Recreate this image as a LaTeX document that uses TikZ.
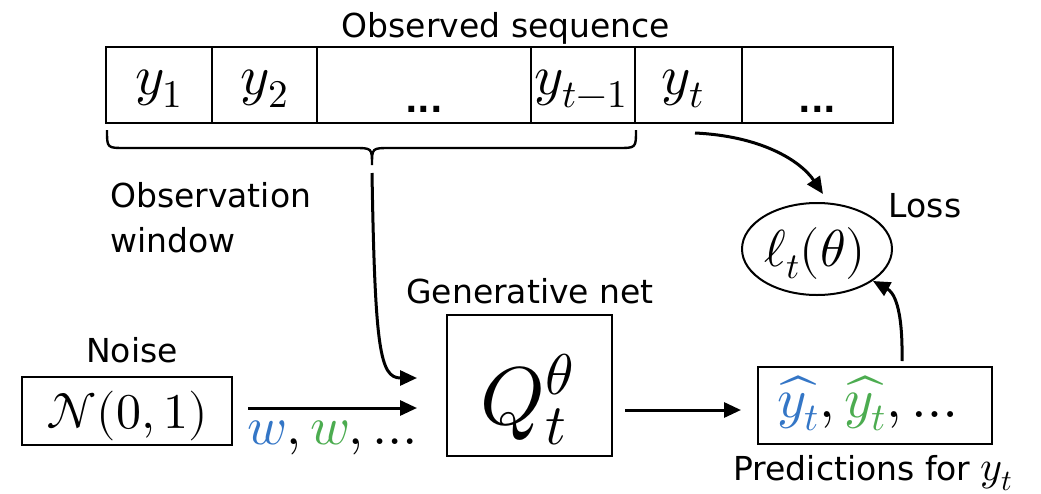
\documentclass[tikz,border=0pt]{standalone}
\usepackage{fontspec}
\usepackage{unicode-math}
\setmathfont{Latin Modern Math}
\setsansfont{DejaVu Sans}
\usetikzlibrary{arrows.meta,shapes.geometric}
\definecolor{wblue}{RGB}{52,118,198}
\definecolor{wgreen}{RGB}{76,172,80}
\tikzset{
  lbl/.style={font=\sffamily\fontsize{33}{40}\selectfont, inner sep=0pt},
  cell/.style={draw, line width=2pt, minimum height=76pt, inner sep=0pt},
  box/.style={draw, line width=2pt, inner sep=0pt},
  arr/.style={line width=3pt, -{Triangle[length=17pt,width=15pt]}},
  mth/.style={inner sep=0pt, font=\fontsize{56}{60}\selectfont},
  bigm/.style={inner sep=0pt, font=\fontsize{82}{90}\selectfont},
  midm/.style={inner sep=0pt, font=\fontsize{50}{56}\selectfont},
}
\begin{document}
\begin{tikzpicture}[x=1pt,y=-1pt]
\useasboundingbox (0,0) rectangle (1041,493);

% observed sequence
\node[lbl, anchor=base] (title) at (506,37) {Observed sequence};
\node[cell, minimum width=106pt] (c1) at (159,85) {};
\node[cell, minimum width=105pt] (c2) at (264.5,85) {};
\node[cell, minimum width=214pt] (c3) at (424,85) {};
\node[cell, minimum width=104pt] (c4) at (583,85) {};
\node[cell, minimum width=107pt] (c5) at (688.5,85) {};
\node[cell, minimum width=151pt] (c6) at (817.5,85) {};
\node[mth, anchor=base] (t1) at (159,94) {$y_1$};
\node[mth, anchor=base] (t2) at (264.5,94) {$y_2$};
\node[lbl, anchor=base] (t3) at (424,112) {\textbf{...}};
\node[mth, anchor=base] (t4) at (581,94) {$y_{t-1}$};
\node[mth, anchor=base] (t5) at (683,94) {$y_t$};
\node[lbl, anchor=base] (t6) at (817.5,112) {\textbf{...}};

% brace
\draw[line width=2.4pt] (107,130) .. controls (107,148) .. (125,148) -- (354,148)
  .. controls (372,148) .. (372,165) .. controls (372,148) .. (390,148) -- (618,148)
  .. controls (636,148) .. (636,130);
\coordinate (bs) at (372,173);

\node[lbl, anchor=base west] (obs1) at (110,207) {Observation};
\node[lbl, anchor=base west] (obs2) at (110,252) {window};

% noise
\node[lbl, anchor=base] (noiselbl) at (132,362) {Noise};
\node[box, minimum width=210pt, minimum height=68pt] (N) at (127,411) {};
\node[midm, anchor=base] (Ntext) at (127,428) {$\mathcal{N}(0,1)$};
\coordinate (ns) at (248,408);
\coordinate (ne) at (417,408);
\node[midm, anchor=base west, font=\fontsize{54}{60}\selectfont] (wlbl) at (247,444)
  {$\color{wblue}w\color{black},\color{wgreen}w\color{black},\ldots$};

% generative net
\node[lbl, anchor=base] (genlbl) at (530,303) {Generative net};
\node[box, minimum width=165pt, minimum height=141pt] (Q) at (529.5,385.5) {};
\node[bigm, anchor=base] (Qtext) at (527,424) {$Q_t^{\theta}$};
\coordinate (qa) at (417,378);

% predictions
\node[box, minimum width=234pt, minimum height=77pt] (P) at (875,405.5) {};
\node[mth, anchor=base west] (Ptext) at (777,417)
  {$\color{wblue}\widehat{y_t}\color{black},\color{wgreen}\widehat{y_t}\color{black},\ldots$};
\node[lbl, anchor=base] (predlbl) at (873,480) {Predictions for {\fontsize{42}{42}\selectfont$y_t$}};
\coordinate (qo) at (625,410);
\coordinate (pi) at (741,410);

% loss
\node[draw, ellipse, line width=2pt, minimum width=150pt, minimum height=92pt, inner sep=0pt] (L) at (817,249) {};
\node[midm, anchor=base, font=\fontsize{52}{56}\selectfont] (Ltext) at (815,266) {$\ell_t(\theta)$};
\node[lbl, anchor=base] (losslbl) at (925,217) {Loss};
\coordinate (ys) at (695,133);
\coordinate (lt) at (823,194);
\coordinate (ps) at (902,361);
\coordinate (lb) at (873,281);

% connectors
\draw[arr] (bs) .. controls (375,350) and (380,378) .. (qa);
\draw[arr] (ns) -- (ne);
\draw[arr] (qo) -- (pi);
\draw[arr] (ys) .. controls (760,136) and (800,160) .. (lt);
\draw[arr] (ps) .. controls (903,305) and (893,292) .. (lb);
\end{tikzpicture}
\end{document}
